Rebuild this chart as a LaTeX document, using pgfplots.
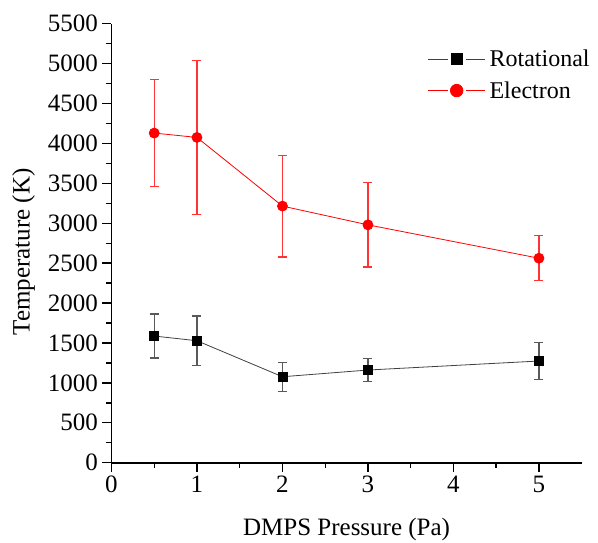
\documentclass[border=0pt]{standalone}
\usepackage{fontspec}
\setmainfont{Liberation Serif}
\usepackage{pgfplots}
\pgfplotsset{compat=1.18}

\begin{document}
\begin{tikzpicture}
\begin{axis}[
  scale only axis,
  width=470.2pt, height=439pt,
  xmin=0, xmax=5.5, ymin=0, ymax=5500,
  axis x line=bottom, axis y line=left,
  axis line style={black, line width=1.6pt, -},
  xtick={0,1,2,3,4,5}, minor x tick num=1,
  ytick={0,500,...,5500}, minor y tick num=1,
  tick align=outside,
  major tick length=9pt, minor tick length=5pt,
  tick style={black, line width=1.4pt},
  /pgf/number format/assume math mode=true,
  /pgf/number format/1000 sep={},
  ticklabel style={font=\fontsize{25}{29}\selectfont},
  xticklabel style={yshift=-1pt},
  yticklabel style={xshift=-1pt},
  xlabel={DMPS Pressure (Pa)},
  ylabel={Temperature (K)},
  label style={font=\fontsize{25}{29}\selectfont},
  xlabel style={at={(axis description cs:0.5,-0.165)}, anchor=base},
  ylabel style={at={(axis description cs:-0.187,0.48)}, anchor=center, rotate=0},
  clip=false,
  legend style={draw=none, fill=none, at={(axis description cs:0.668,0.950)},
    anchor=north west, font=\fontsize{24}{28}\selectfont,
    row sep=9.5pt, inner sep=2pt, nodes={inner xsep=4pt}},
  legend cell align=left,
  legend image code/.code={
    \draw[#1, mark=none] (0pt,0pt) -- (20pt,0pt) (38pt,0pt) -- (57pt,0pt);
    \path[#1, draw=none, every mark/.append style={scale=1.25}]
      plot coordinates {(28.5pt,0pt)};},
]
% Rotational temperature
\addplot[black!75, line width=0.8pt, mark=square*,
  mark options={mark size=4.5pt, fill=black, draw=black, solid},
  error bars/.cd, y dir=both, y explicit,
  error bar style={black!65, line width=1.2pt},
  error mark options={black!65, line width=1.2pt, mark size=4.5pt, rotate=90}]
  coordinates {
  (0.5,1587) +- (0,275)
  (1,1528) +- (0,310)
  (2,1077) +- (0,180)
  (3,1161) +- (0,141)
  (5,1274) +- (0,227)
};
\addlegendentry{Rotational}
% Electron temperature
\addplot[red, line width=0.8pt, mark=*,
  mark options={mark size=5pt, fill=red, draw=red, solid},
  error bars/.cd, y dir=both, y explicit,
  error bar style={red!80, line width=1.2pt},
  error mark options={red!80, line width=1.2pt, mark size=4.5pt, rotate=90}]
  coordinates {
  (0.5,4130) +- (0,670)
  (1,4075) +- (0,967)
  (2,3215) +- (0,637)
  (3,2980) +- (0,528)
  (5,2562) +- (0,282)
};
\addlegendentry{Electron}
\coordinate (bbl) at (rel axis cs:-0.2371,-0.1829);
\coordinate (btr) at (rel axis cs:1.0347,1.054);
\end{axis}
\pgfresetboundingbox
\path (bbl) rectangle (btr);
\end{tikzpicture}
\end{document}
